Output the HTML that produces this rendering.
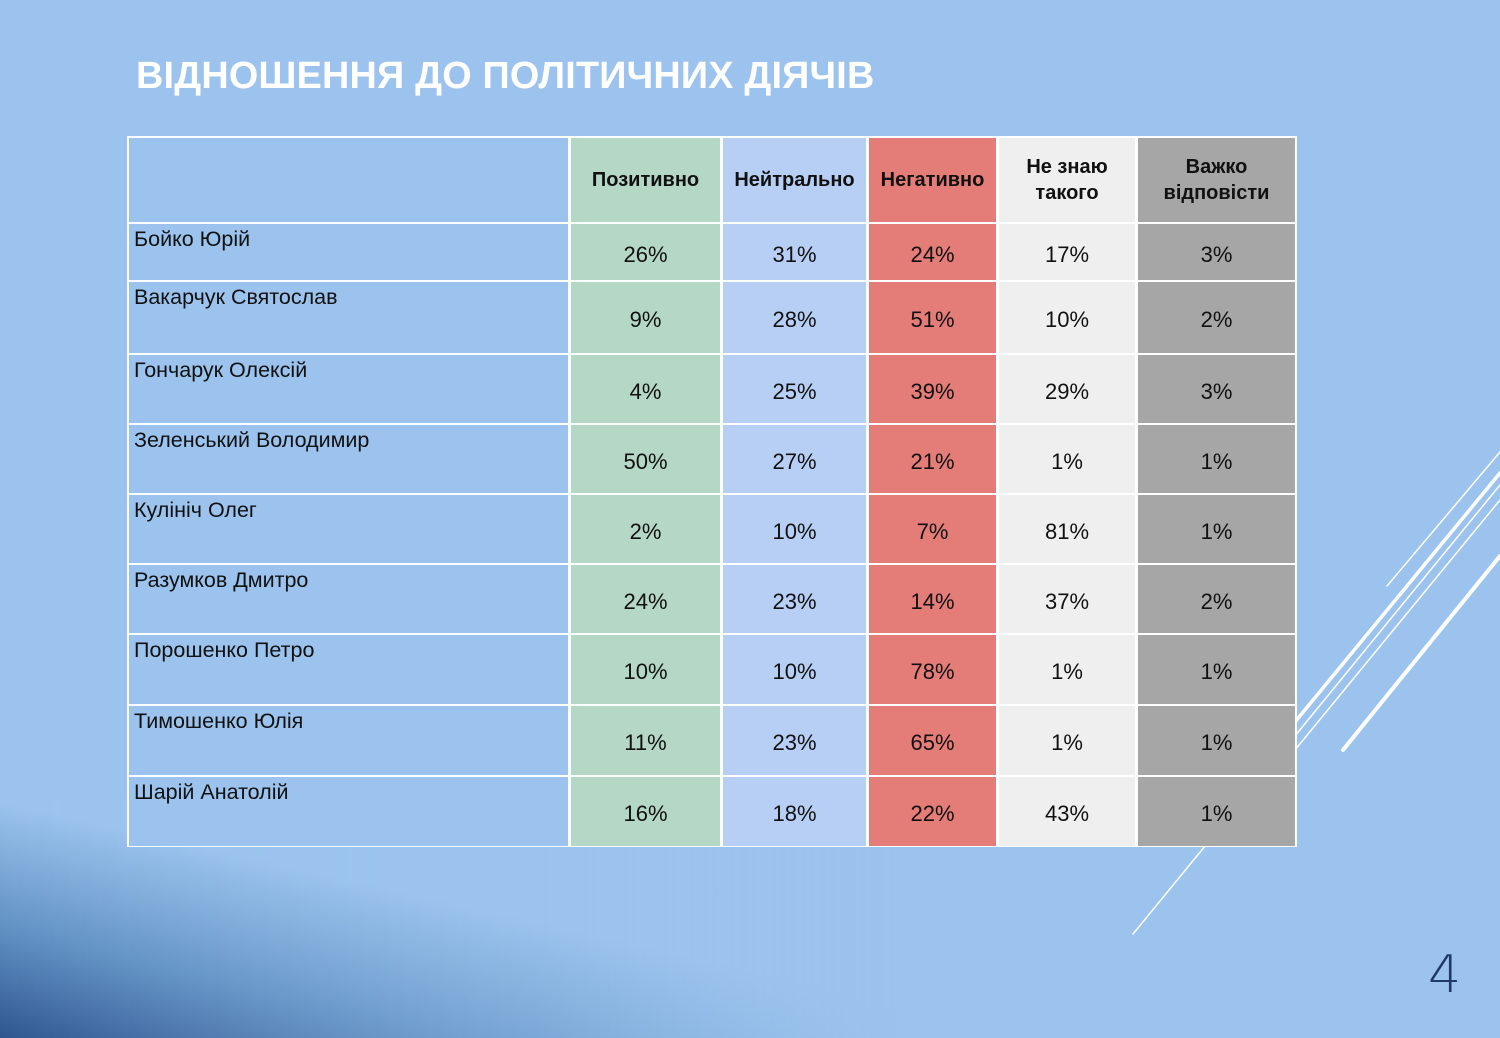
<!DOCTYPE html>
<html><head><meta charset="utf-8"><style>
body{margin:0;width:1500px;height:1038px;overflow:hidden;background:#9bc3ed;font-family:"Liberation Sans",sans-serif;position:relative}
.bg{position:absolute;left:0;top:0;width:1500px;height:1038px}
.title{position:absolute;left:136px;top:55px;color:#fff;font-weight:bold;font-size:37.8px;letter-spacing:0.2px;white-space:nowrap}
.c{position:absolute;box-sizing:border-box;font-size:22px;color:#111;display:flex;align-items:center;justify-content:center;text-align:center}
.h{font-weight:bold;font-size:20px;line-height:26px}
.n{justify-content:flex-start;align-items:flex-start;padding:3px 0 0 5px;font-size:21.5px}
.v{padding-top:5px}
.num{position:absolute;left:1428px;top:945px;font-size:52px;color:#1f3a66;font-family:"DejaVu Sans",sans-serif;font-weight:200}
</style></head><body>
<svg class="bg" viewBox="0 0 1500 1038">
<defs><linearGradient id="g" x1="10" y1="1038" x2="60" y2="815" gradientUnits="userSpaceOnUse">
<stop offset="0" stop-color="#2f5690"/><stop offset="0.45" stop-color="#5f8fc2"/><stop offset="1" stop-color="#9bc3ed"/></linearGradient>
<linearGradient id="m" x1="0" y1="0" x2="900" y2="0" gradientUnits="userSpaceOnUse"><stop offset="0" stop-color="#fff"/><stop offset="0.6" stop-color="#fff" stop-opacity="0.6"/><stop offset="1" stop-color="#fff" stop-opacity="0"/></linearGradient>
<mask id="mk"><rect x="0" y="800" width="1000" height="238" fill="url(#m)"/></mask></defs>
<rect x="0" y="800" width="1000" height="238" fill="url(#g)" mask="url(#mk)"/>
<g stroke="#fff" stroke-linecap="round">
<line x1="1387" y1="586" x2="1500" y2="452" stroke-width="1.5"/>
<line x1="1290" y1="728" x2="1500" y2="473" stroke-width="3.5"/>
<line x1="1290" y1="742" x2="1500" y2="485" stroke-width="1.5"/>
<line x1="1290" y1="756" x2="1500" y2="500" stroke-width="1.5"/>
<line x1="1343" y1="750" x2="1500" y2="556" stroke-width="4"/>
<line x1="1133" y1="934" x2="1210" y2="840" stroke-width="1.5"/>
</g></svg>
<div class="title">ВІДНОШЕННЯ ДО ПОЛІТИЧНИХ ДІЯЧІВ</div>
<div style="position:absolute;left:127px;top:136px;width:1170px;height:711px;background:#fff"></div>
<div id="t"></div>
<div class="num">4</div>
<script>
var xs=[128,569,721,867,997,1136,1296],ys=[137,222,280,353,423,493,563,633,704,775,846];
var cols=["#9bc3ed","#b5d7c5","#b8cff5","#e47c78","#efefef","#a6a6a6"];
var hd=["","Позитивно","Нейтрально","Негативно","Не знаю<br>такого","Важко<br>відповісти"];
var rows=[["Бойко Юрій",26,31,24,17,3],["Вакарчук Святослав",9,28,51,10,2],["Гончарук Олексій",4,25,39,29,3],["Зеленський Володимир",50,27,21,1,1],["Кулініч Олег",2,10,7,81,1],["Разумков Дмитро",24,23,14,37,2],["Порошенко Петро",10,10,78,1,1],["Тимошенко Юлія",11,23,65,1,1],["Шарій Анатолій",16,18,22,43,1]];
var h="";
function cell(r,c,cls,txt){var x=xs[c]+(c?2:1),y=ys[r]+(r?2:1),w=xs[c+1]-x-1,hh=ys[r+1]-y;
h+='<div class="c '+cls+'" style="left:'+x+'px;top:'+y+'px;width:'+w+'px;height:'+hh+'px;background:'+cols[c]+'">'+txt+'</div>';}
for(var c=0;c<6;c++)cell(0,c,"h",hd[c]);
rows.forEach(function(r,i){for(var c=0;c<6;c++)cell(i+1,c,c?"v":"n",c?r[c]+"%":r[0]);});
document.getElementById("t").innerHTML=h;
</script>
</body></html>
